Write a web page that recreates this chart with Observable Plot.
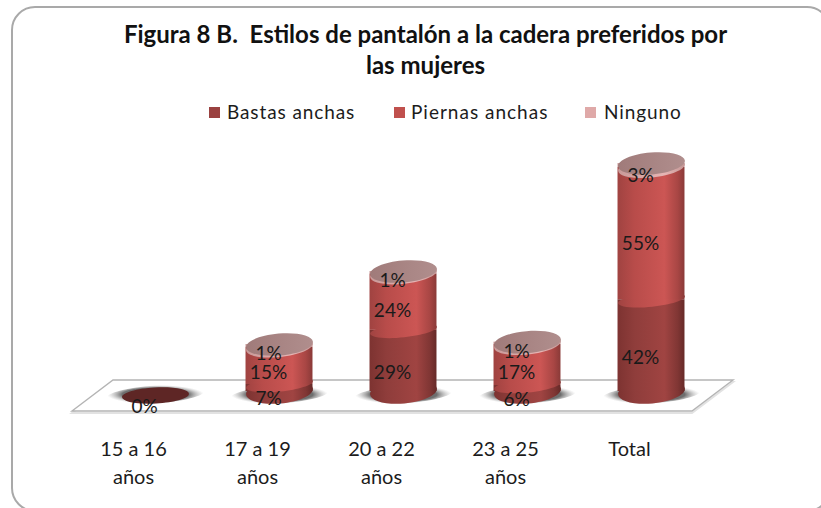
<!DOCTYPE html>
<html><head><meta charset="utf-8">
<script src="https://cdn.jsdelivr.net/npm/d3@7"></script>
<script src="https://cdn.jsdelivr.net/npm/@observablehq/plot@0.6"></script>
<style>
html,body{margin:0;padding:0;background:#fff;overflow:hidden}
#page{position:relative;width:821px;height:508px;overflow:hidden;font-family:Lato,sans-serif;color:#1c1c1c}
#frame{position:absolute;left:11px;top:6px;width:820px;height:506px;border:2px solid #a9a9a9;border-radius:24px;box-sizing:border-box}
#title{position:absolute;left:0;top:18px;width:851px;text-align:center;font-weight:700;font-size:24px;line-height:31px;color:#111}
.lg{position:absolute;top:101px;font-size:19px;line-height:22px;white-space:nowrap}
.sw{position:absolute;top:107px;width:11px;height:11px}
#chart{position:absolute;left:0;top:0}
</style></head><body>
<svg width="0" height="0" style="position:absolute">
<defs>
<linearGradient id="g0"><stop offset="0" stop-color="#7d3331"/><stop offset=".25" stop-color="#8f3d3b"/><stop offset=".7" stop-color="#a04442"/><stop offset=".9" stop-color="#803634"/><stop offset="1" stop-color="#662a28"/></linearGradient>
<linearGradient id="g1"><stop offset="0" stop-color="#a04341"/><stop offset=".25" stop-color="#b84c4a"/><stop offset=".7" stop-color="#cc5654"/><stop offset=".9" stop-color="#a84644"/><stop offset="1" stop-color="#8a3a38"/></linearGradient>
<linearGradient id="g2"><stop offset="0" stop-color="#c99a99"/><stop offset=".7" stop-color="#e6b5b4"/><stop offset="1" stop-color="#c49695"/></linearGradient>
<linearGradient id="gtop"><stop offset="0" stop-color="#a07b7a"/><stop offset="1" stop-color="#b08e8d"/></linearGradient>
<radialGradient id="gshadow"><stop offset="0" stop-color="#666"/><stop offset=".68" stop-color="#6e6e6e"/><stop offset="1" stop-color="#bbb" stop-opacity="0"/></radialGradient>
</defs></svg>
<div id="page">
<div id="frame"></div>
<div id="title">Figura 8 B.&nbsp; Estilos de pantalón a la cadera preferidos por<br>las mujeres</div>
<div class="sw" style="left:209px;background:#9a4140"></div><div class="lg" style="left:227px;letter-spacing:.9px">Bastas anchas</div>
<div class="sw" style="left:394px;background:#c0504d"></div><div class="lg" style="left:411px;letter-spacing:1px">Piernas anchas</div>
<div class="sw" style="left:585px;background:#dfa9a8"></div><div class="lg" style="left:604px;letter-spacing:.9px">Ninguno</div>
<div id="chart"></div>
</div>
<script>
const categories = ["15 a 16 años", "17 a 19 años", "20 a 22 años", "23 a 25 años", "Total"];
const series = ["Bastas anchas", "Piernas anchas", "Ninguno"];
const bastas  = [0, 7, 29, 6, 42];
const piernas = [0, 15, 24, 17, 55];
const ninguno = [0, 1, 1, 1, 3];
const columns = [bastas, piernas, ninguno];

const rows = [];
categories.forEach((cat, i) => {
  let base = 0;
  columns.forEach((col, s) => {
    rows.push({cat, s, value: col[i], y1: base, y2: base + col[i]});
    base += col[i];
  });
});
const totals = categories.map((cat, i) => ({cat, total: bastas[i] + piernas[i] + ninguno[i]}));

// The original's 3-D perspective compresses low values: percent -> drawn height
const persp = d3.scaleLinear().domain([0, 7, 23, 54, 97, 100]).range([0, 7, 47, 120, 224, 228]);
// Labels sit on a flat line, lower than the cylinder segment they name
const labelY = mid => -15.5 + 2.35 * mid;

// tilted ellipse as a custom dot symbol
const ellipse = (rx, ry, deg) => ({
  draw(c) {
    const a = deg * Math.PI / 180, k = 0.5523;
    const p = (x, y) => [x * Math.cos(a) - y * Math.sin(a), x * Math.sin(a) + y * Math.cos(a)];
    c.moveTo(...p(rx, 0));
    c.bezierCurveTo(...p(rx, k * ry), ...p(k * rx, ry), ...p(0, ry));
    c.bezierCurveTo(...p(-k * rx, ry), ...p(-rx, k * ry), ...p(-rx, 0));
    c.bezierCurveTo(...p(-rx, -k * ry), ...p(-k * rx, -ry), ...p(0, -ry));
    c.bezierCurveTo(...p(k * rx, -ry), ...p(rx, -k * ry), ...p(rx, 0));
    c.closePath();
  }
});
const caps = [ellipse(33.5, 12, -5), ellipse(33.5, 7, -6), ellipse(33.5, 10, -6)];
const topCap = ellipse(33.5, 11, -5);
const flatCap = ellipse(33.5, 8, -3);
const shadow = ellipse(49, 9, -4);

const floor = (index, scales, values, dim) => {
  const L = dim.marginLeft, R = dim.width - dim.marginRight, b = scales.y(0);
  const pts = [[L - 21, b + 20], [L + 20, b - 11], [R + 20, b - 11], [R - 21, b + 20]];
  const g = d3.create("svg:g");
  g.append("path").attr("d", "M" + pts.map(p => [p[0], p[1] + 2].join(",")).join("L") + "Z")
    .attr("fill", "none").attr("stroke", "#e2e2e2").attr("stroke-width", 2);
  g.append("path").attr("d", "M" + pts.join("L") + "Z")
    .attr("fill", "#fff").attr("stroke", "#b4b4b4").attr("stroke-width", 1.4);
  return g.node();
};

const marks = [floor];
marks.push(Plot.dot(categories, {x: d => d, y: () => 0, symbol: shadow, fill: "url(#gshadow)", dy: 3}));
columns.forEach((col, s) => {
  const seg = rows.filter(d => d.s === s && d.value > 0);
  marks.push(
    Plot.dot(seg, {x: "cat", y: d => persp(d.y1), symbol: caps[s], fill: `url(#g${s})`}),
    Plot.barY(seg, {x: "cat", y1: d => persp(d.y1), y2: d => persp(d.y2), fill: `url(#g${s})`}),
  );
});
marks.push(
  Plot.dot(totals.filter(d => d.total > 0), {x: "cat", y: d => persp(d.total), symbol: topCap, fill: "url(#gtop)"}),
  Plot.dot(totals.filter(d => d.total === 0), {x: "cat", y: d => persp(d.total), symbol: flatCap, fill: "#5e2625", dy: 4}),
  Plot.text(rows.filter(d => d.s === 0 || d.value > 0), {
    x: "cat", y: d => labelY((d.y1 + d.y2) / 2),
    text: d => d.value + "%", dx: -11, fontSize: 19, fill: "#1a1a1a", fontFamily: "Lato, sans-serif"
  }),
  Plot.axisX({
    anchor: "bottom", tickSize: 0, tickPadding: 45, dx: -22, fontSize: 20, lineHeight: 1.4,
    fill: "#1c1c1c", fontFamily: "Lato, sans-serif", label: null,
    tickFormat: d => d.replace(" años", "\naños")
  })
);

const svg = Plot.plot({
  width: 821, height: 508,
  marginLeft: 93, marginRight: 108, marginTop: 163, marginBottom: 117,
  style: {background: "transparent", overflow: "visible"},
  x: {domain: categories, paddingInner: 0.46, paddingOuter: 0.23, round: false},
  y: {domain: [0, 228], range: [391, 163], axis: null},
  marks
});
document.getElementById("chart").appendChild(svg);
</script>
</body></html>
